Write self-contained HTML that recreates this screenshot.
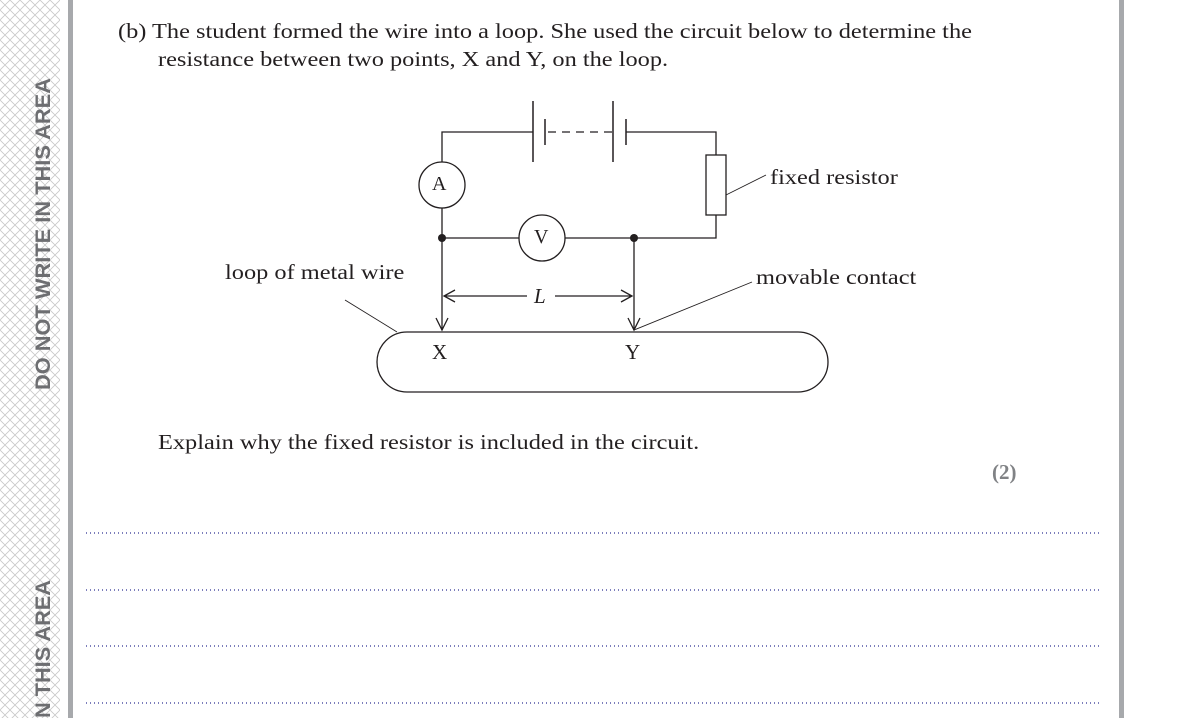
<!DOCTYPE html>
<html><head><style>
body{margin:0;width:1190px;height:718px;background:#fff;overflow:hidden;position:relative;font-family:"Liberation Serif",serif;color:#231f20}
.t{position:absolute;font-size:21px;white-space:nowrap;transform:scaleX(1.16);transform-origin:0 0}
</style></head><body>
<svg width="1190" height="718" style="position:absolute;left:0;top:0">
<defs>
<pattern id="h" width="10" height="10" patternUnits="userSpaceOnUse">
<path d="M0 0L10 10M10 0L0 10" stroke="#c8c8c8" stroke-width="0.8"/>
</pattern>
</defs>
<rect x="0" y="0" width="60" height="718" fill="url(#h)"/>
<rect x="68" y="0" width="5" height="718" fill="#a7a9ac"/>
<rect x="1119" y="0" width="5" height="718" fill="#a7a9ac"/>
<text transform="translate(50,390) rotate(-90)" font-family="Liberation Sans" font-weight="bold" font-size="21" fill="#6d6e71" textLength="312" lengthAdjust="spacingAndGlyphs">DO NOT WRITE IN THIS AREA</text>
<text transform="translate(50,718) rotate(-90)" font-family="Liberation Sans" font-weight="bold" font-size="21" fill="#6d6e71" textLength="138" lengthAdjust="spacingAndGlyphs">N THIS AREA</text>
<g stroke="#231f20" stroke-width="1.3" fill="none">
<path d="M442 162V132H533M626 132H716V155M716 215V238H634M442 208V330M634 238V330M442 238H519M565 238H634"/>
<path d="M533 101V162M613 101V162" stroke-width="1.5"/>
<path d="M545 119V145M626 119V145" stroke-width="1.5"/>
<path d="M548 132H612" stroke-dasharray="8,6"/>
<rect x="706" y="155" width="20" height="60" fill="#fff"/>
<circle cx="442" cy="185" r="23"/>
<circle cx="542" cy="238" r="23"/>
<path d="M436 318L442 330L448 318M628 318L634 330L640 318"/>
<path d="M444 296H527M555 296H632M455 290L444 296L455 302M621 290L632 296L621 302"/>
<rect x="377" y="332" width="451" height="60" rx="30" ry="30"/>
<path d="M726 195L766 175M634 330L752 282M397 332L345 300" stroke-width="0.9"/>
</g>
<circle cx="442" cy="238" r="4" fill="#231f20"/>
<circle cx="634" cy="238" r="4" fill="#231f20"/>
<g stroke="#2e3192" stroke-width="1.2" stroke-dasharray="1,3">
<path d="M86 533H1100M86 590H1100M86 646H1100M86 703H1100"/>
</g>
</svg>
<div class="t" style="left:118px;top:19px">(b) The student formed the wire into a loop. She used the circuit below to determine the</div>
<div class="t" style="left:158px;top:47px">resistance between two points, X and Y, on the loop.</div>
<div class="t" style="left:432px;top:173px;font-size:20px;transform:none">A</div>
<div class="t" style="left:534px;top:226px;font-size:20px;transform:none">V</div>
<div class="t" style="left:770px;top:165px">fixed resistor</div>
<div class="t" style="left:225px;top:260px">loop of metal wire</div>
<div class="t" style="left:756px;top:265px">movable contact</div>
<div class="t" style="left:534px;top:284px;font-style:italic;transform:none">L</div>
<div class="t" style="left:432px;top:340px;transform:none">X</div>
<div class="t" style="left:625px;top:340px;transform:none">Y</div>
<div class="t" style="left:158px;top:430px">Explain why the fixed resistor is included in the circuit.</div>
<div class="t" style="left:992px;top:460px;font-weight:bold;color:#808285;transform:none">(2)</div>
</body></html>
